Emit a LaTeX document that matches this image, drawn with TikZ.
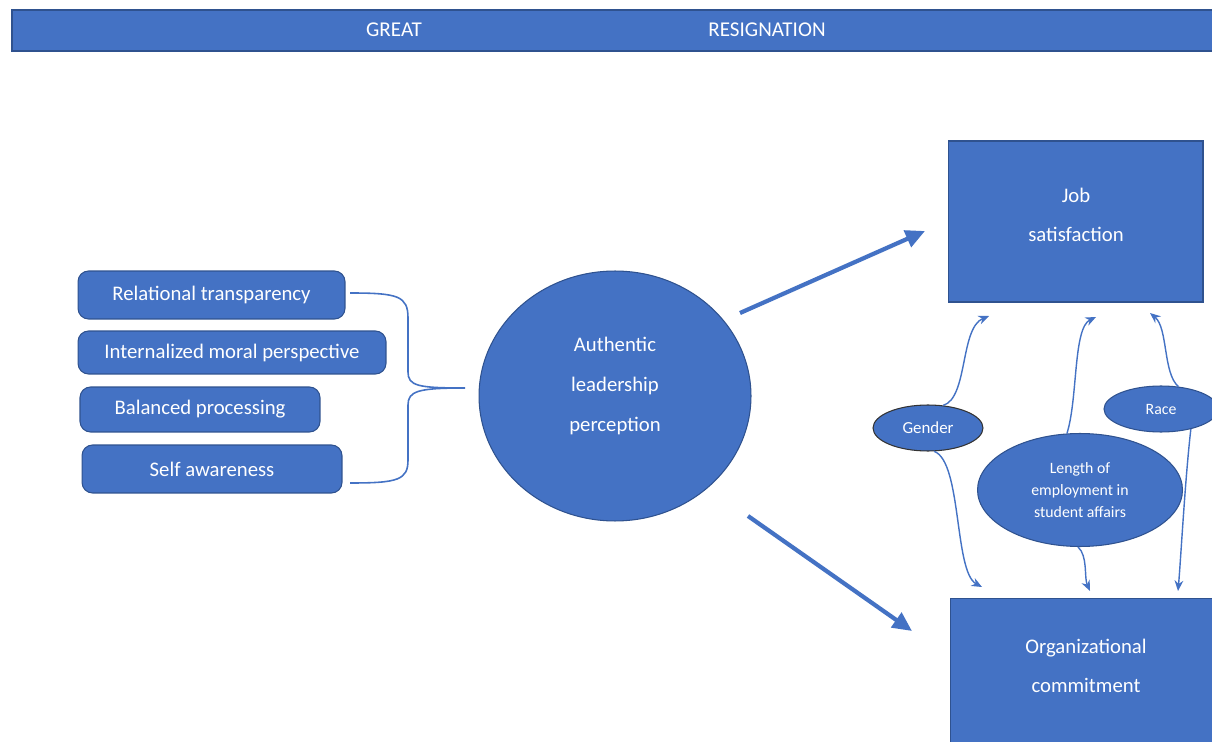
\documentclass[tikz,border=0pt]{standalone}
\usepackage{fontspec}
\setmainfont{Carlito}
\usetikzlibrary{arrows.meta}
\usetikzlibrary{shapes.geometric}

\definecolor{boxblue}{HTML}{4472C4}
\definecolor{edgeblue}{HTML}{2F528F}

\tikzset{
	dimbox/.style={draw=edgeblue, fill=boxblue, rounded corners=6pt, text=white, line width=0.6pt, font=\fontsize{11.8}{13}\selectfont},
	bigbox/.style={draw=edgeblue, fill=boxblue, line width=0.6pt},
	bigtext/.style={text=white, align=center, font=\fontsize{11.8}{22.5}\selectfont},
	factor/.style={ellipse, draw=edgeblue, fill=boxblue, text=white, inner sep=0pt, line width=0.6pt, align=center, font=\fontsize{9}{12.5}\selectfont},
	bigarrow/.style={boxblue, line width=2.4pt, -{Triangle[length=11pt, width=10pt]}},
	thinarrow/.style={boxblue, line width=0.8pt, -{Stealth[length=6pt, width=5pt]}},
}

\begin{document}
\begin{tikzpicture}[x=0.02cm, y=-0.02cm]
	\clip (0,0) rectangle (1212,742);
	\fill[white] (0,0) rectangle (1212,742);

	% title bar
	\node[draw=edgeblue, fill=boxblue, line width=0.8pt, minimum width=24.2cm, minimum height=0.82cm] (title) at (617,30.5) {};
	\node[text=white, font=\fontsize{12}{13}\selectfont] (great) at (394,30) {GREAT};
	\node[text=white, font=\fontsize{12}{13}\selectfont] (resig) at (767,30) {RESIGNATION};

	% dimensions
	\node[dimbox, minimum width=5.34cm, minimum height=0.96cm] (rt) at (211.5,295) {Relational transparency};
	\node[dimbox, minimum width=6.16cm, minimum height=0.86cm] (imp) at (232,352.5) {Internalized moral perspective};
	\node[dimbox, minimum width=4.8cm, minimum height=0.9cm] (bp) at (200,409.5) {Balanced processing};
	\node[dimbox, minimum width=5.2cm, minimum height=0.96cm] (sa) at (212,469) {Self awareness};

	% brace
	\draw[boxblue, line width=0.9pt] (350,293) .. controls (398,293) and (408,296) .. (408,318) -- (408,372)
		.. controls (408,386) and (418,388) .. (465,388)
		.. controls (418,388) and (408,391) .. (408,405) -- (408,460)
		.. controls (408,480) and (398,483) .. (350,483);

	\node[ellipse, bigbox, minimum width=5.44cm, minimum height=5cm, inner sep=0pt] (alp) at (615,396) {};
	\node[bigtext] (alptext) at (615,386) {Authentic\\leadership\\perception};

	\node[bigbox, minimum width=5.1cm, minimum height=3.22cm] (job) at (1075.5,221.5) {};
	\node[bigtext] (jobtext) at (1076,215) {Job\\satisfaction};
	\node[bigbox, minimum width=5.5cm, minimum height=4cm, anchor=north] (org) at (1088,598) {};
	\node[bigtext] (orgtext) at (1086,666) {Organizational\\commitment};

	\coordinate (jobin) at (925,231);
	\coordinate (orgin) at (912,631);
	\coordinate (alpup) at (740,313);
	\coordinate (alpdown) at (748,516);
	\draw[bigarrow] (alpup) -- (jobin);
	\draw[bigarrow] (alpdown) -- (orgin);

	% moderators
	\node[factor, draw=black!80, minimum width=2.2cm, minimum height=0.92cm, font=\fontsize{9.6}{12}\selectfont] (gender) at (928,428) {Gender};
	\node[factor, minimum width=2.28cm, minimum height=0.92cm] (race) at (1161,409) {Race};
	\node[factor, minimum width=4.1cm, minimum height=2.26cm] (length) at (1080,490) {Length of\\employment in\\student affairs};

	\coordinate (g1) at (989,316);
	\coordinate (g2) at (982,587);
	\coordinate (l1) at (1096,317);
	\coordinate (l2) at (1090,591);
	\coordinate (r1) at (1150,313);
	\coordinate (r2) at (1178,591);

	\draw[thinarrow] (gender.56) .. controls (968,398) and (960,328) .. (g1);
	\draw[thinarrow] (gender.-75) .. controls (962,462) and (954,572) .. (g2);
	\draw[thinarrow] (length.103) .. controls (1078,398) and (1073,328) .. (l1);
	\draw[thinarrow] (length.-92) .. controls (1088,556) and (1084,578) .. (l2);
	\draw[thinarrow] (race.52) .. controls (1163,374) and (1168,328) .. (r1);
	\draw[thinarrow] (race.-34) .. controls (1185,480) and (1181,556) .. (r2);
\end{tikzpicture}
\end{document}
